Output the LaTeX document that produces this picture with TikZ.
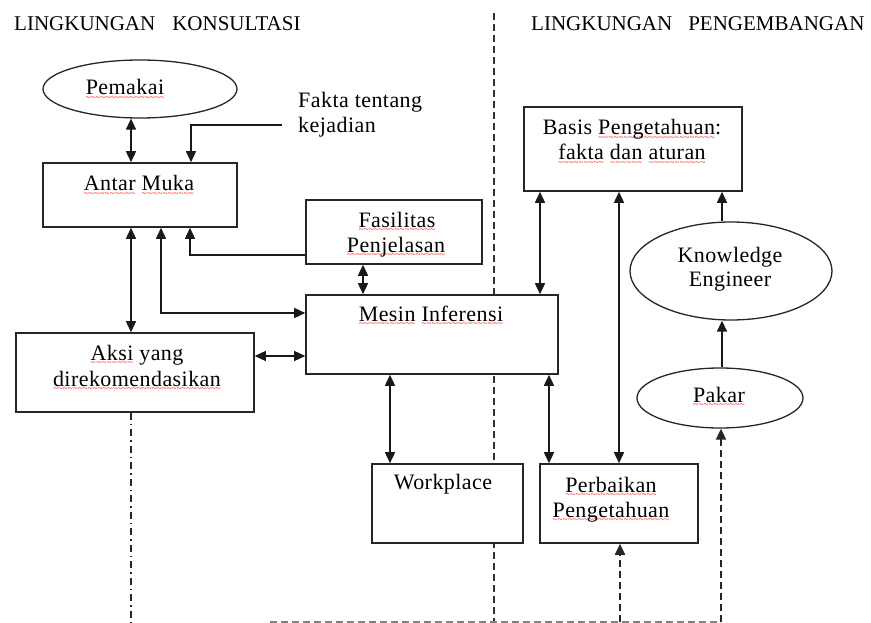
\documentclass[tikz,border=0pt]{standalone}
\usepackage{fontspec}
\setmainfont{Liberation Serif}
\newfontfamily\bodyfont[LetterSpace=2]{Liberation Serif}
\newfontfamily\waveglyph{Liberation Serif}
\usetikzlibrary{arrows.meta,shapes.geometric}

% red wavy spell-check underline, built from repeated tildes
\newcommand\sq[1]{\leavevmode\setbox0\hbox{#1}%
  \rlap{\lower5.2pt\hbox to\wd0{\color{red}\waveglyph\fontsize{9}{9}\selectfont\xleaders\hbox{\char`\~}\hfil}}\box0\relax}

\tikzset{
  frame/.style={draw=black!85, line width=1.6pt, fill=white, rectangle, inner sep=0pt},
  oval/.style={draw=black!85, line width=1.3pt, fill=white, ellipse, inner sep=0pt},
  lbl/.style={font=\bodyfont\fontsize{22}{26}\selectfont, inner sep=0pt, anchor=base},
  head/.style={font=\fontsize{21}{25}\selectfont, inner sep=0pt, anchor=base west},
  link/.style={line width=1.5pt, draw=black!90},
  tip/.style={-{Triangle[length=11pt,width=10pt]}},
  tips/.style={{Triangle[length=11pt,width=10pt]}-{Triangle[length=11pt,width=10pt]}},
  divider/.style={line width=2pt, draw=black!80, dash pattern=on 7pt off 4pt},
  feedback/.style={line width=1.8pt, draw=black!85, dash pattern=on 7pt off 4pt},
  dashdotline/.style={line width=1.8pt, draw=black!85, dash pattern=on 7pt off 4pt on 1.5pt off 4pt},
}

\begin{document}
\begin{tikzpicture}[x=1pt,y=-1pt]
\useasboundingbox (0,0) rectangle (871,623);
\fill[white] (0,0) rectangle (871,623);

% helper coordinates
\coordinate (x131) at (131,0);
\coordinate (x161) at (161,0);
\coordinate (x190) at (190,0);
\coordinate (x191) at (191,0);
\coordinate (x363) at (363,0);
\coordinate (x390) at (390,0);
\coordinate (x540) at (540,0);
\coordinate (x549) at (549,0);
\coordinate (x619) at (619,0);
\coordinate (x722) at (722,0);
\coordinate (y255) at (0,255);
\coordinate (y313) at (0,313);
\coordinate (y356) at (0,356);
\coordinate (divtop) at (494,13);
\coordinate (divbot) at (494,623);
\coordinate (fbleft) at (270,622);
\coordinate (fbmid) at (620,622);
\coordinate (fbright) at (721,622);
\coordinate (adbot) at (131,623);
\coordinate (fakta) at (282,125);

% section divider
\draw[divider] (divtop) -- (divbot);
% feedback line along the bottom
\draw[feedback, draw=black!50] (fbleft) -- (fbright);

% headings
\node[head] (h1) at (14,31) {LINGKUNGAN\hspace{17pt}KONSULTASI};
\node[head] (h2) at (531,31) {LINGKUNGAN\hspace{16pt}PENGEMBANGAN};

% components
\node[oval, minimum width=194pt, minimum height=58pt] (pem) at (140,89) {};
\node[frame, minimum width=194pt, minimum height=64pt] (antar) at (140,195) {};
\node[frame, minimum width=176pt, minimum height=64pt] (fas) at (394,232) {};
\node[frame, minimum width=252pt, minimum height=79pt] (mesin) at (432,334.5) {};
\node[frame, minimum width=238pt, minimum height=79pt] (aksi) at (135,372.5) {};
\node[frame, minimum width=151pt, minimum height=79pt] (work) at (447.5,503.5) {};
\node[frame, minimum width=158pt, minimum height=79pt] (perb) at (619,503.5) {};
\node[frame, minimum width=218pt, minimum height=84pt] (basis) at (633,149) {};
\node[oval, minimum width=202pt, minimum height=98pt] (ke) at (731,271) {};
\node[oval, minimum width=166pt, minimum height=60pt] (pakar) at (720,398) {};

% labels
\node[lbl] (tpem) at (125,95) {\sq{Pemakai}};
\node[lbl] (tantar) at (139,191) {\sq{Antar} \sq{Muka}};
\node[lbl, anchor=base west] (tfk1) at (298,108) {Fakta tentang};
\node[lbl, anchor=base west] (tfk2) at (298,133) {kejadian};
\node[lbl] (tfas1) at (397,227) {\sq{Fasilitas}};
\node[lbl] (tfas2) at (396,252) {\sq{Penjelasan}};
\node[lbl] (tmesin) at (431,321) {\sq{Mesin} \sq{Inferensi}};
\node[lbl] (taksi1) at (137,360) {\sq{Aksi} yang};
\node[lbl] (taksi2) at (137,386) {\sq{direkomendasikan}};
\node[lbl] (twork) at (443,489) {Workplace};
\node[lbl] (tperb1) at (611,492) {\sq{Perbaikan}};
\node[lbl] (tperb2) at (611,517) {\sq{Pengetahuan}};
\node[lbl] (tbas1) at (632,135) {Basis \sq{Pengetahuan}:};
\node[lbl] (tbas2) at (632,160) {\sq{fakta} \sq{dan} \sq{aturan}};
\node[lbl] (tke1) at (730,262) {Knowledge};
\node[lbl] (tke2) at (730,287) {Engineer};
\node[lbl] (tpakar) at (719,402) {\sq{Pakar}};

% connectors, consultation side
\draw[link, tips] (pem.south -| x131) -- (antar.north -| x131);
\draw[link, tip] (fakta) -| (antar.north -| x191);
\draw[link, tip] (fas.west |- y255) -| (antar.south -| x190);
\draw[link, tips] (antar.south -| x131) -- (aksi.north -| x131);
\draw[link, tips] (antar.south -| x161) |- (mesin.west |- y313);
\draw[link, tips] (fas.south -| x363) -- (mesin.north -| x363);
\draw[link, tips] (aksi.east |- y356) -- (mesin.west |- y356);
\draw[link, tips] (mesin.south -| x390) -- (work.north -| x390);
\draw[dashdotline] (aksi.south -| x131) -- (adbot);

% connectors, development side
\draw[link, tips] (basis.south -| x540) -- (mesin.north -| x540);
\draw[link, tips] (mesin.south -| x549) -- (perb.north -| x549);
\draw[link, tips] (basis.south -| x619) -- (perb.north -| x619);
\draw[link, tip] (ke.north -| x722) -- (basis.south -| x722);
\draw[link, tip] (pakar.north -| x722) -- (ke.south -| x722);
\draw[feedback, tip] (fbmid) -- (perb.south -| fbmid);
\draw[feedback, tip] (fbright) -- (pakar.south -| fbright);
\end{tikzpicture}
\end{document}
